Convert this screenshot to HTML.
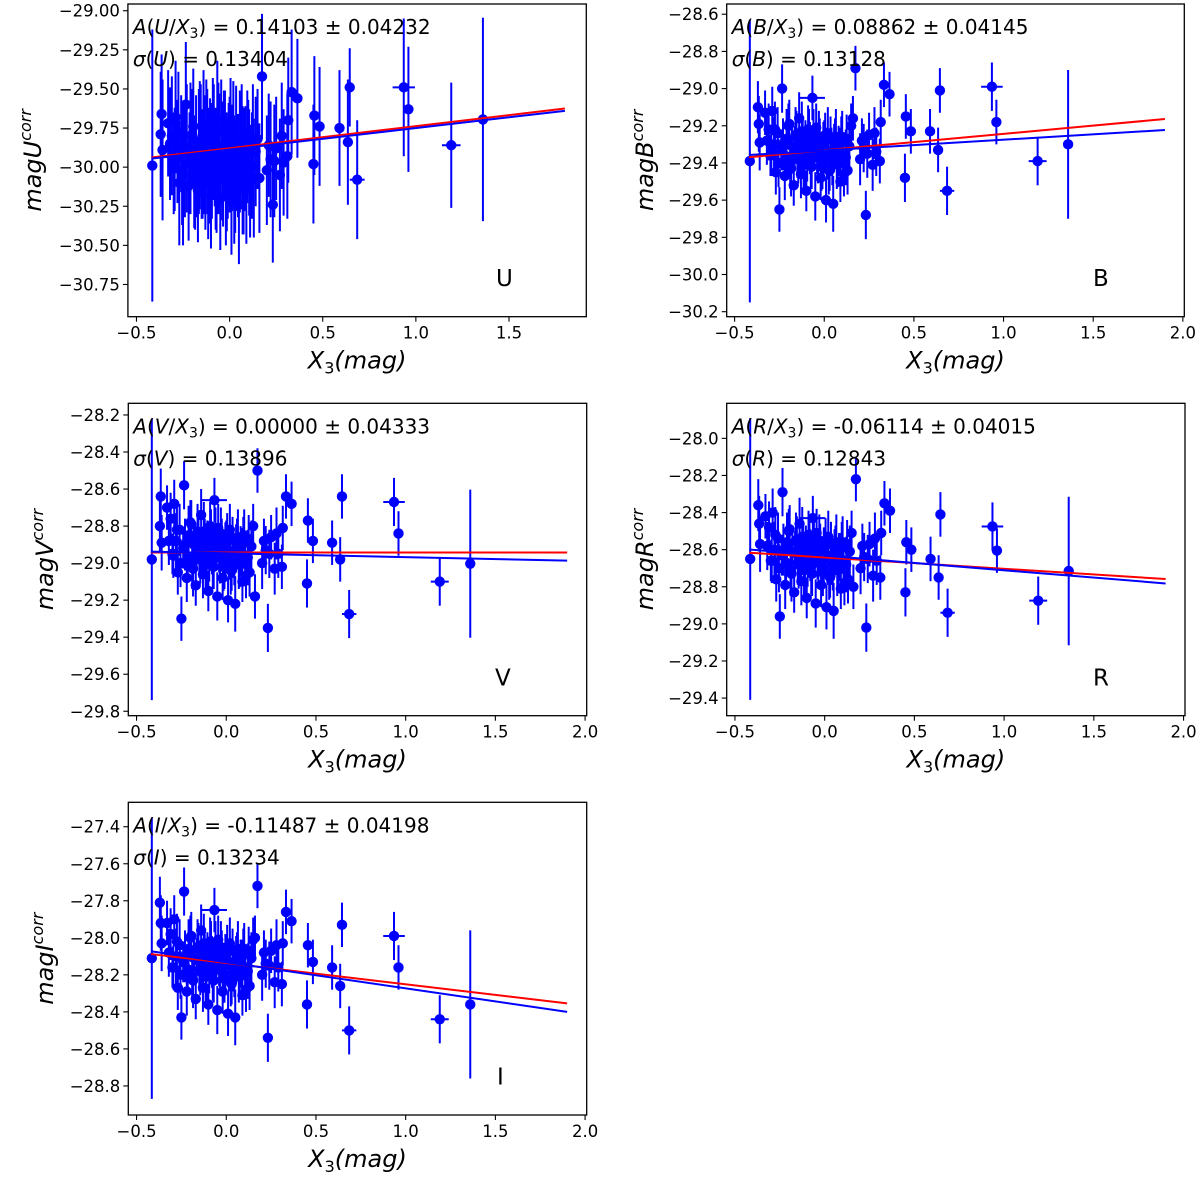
<!DOCTYPE html>
<html><head><meta charset="utf-8"><style>
html,body{margin:0;padding:0;background:#fff;}
svg{display:block;font-family:"DejaVu Sans","Liberation Sans",sans-serif;}
</style></head><body>
<svg id="fig" width="1200" height="1181" viewBox="0 0 1200 1181" xmlns="http://www.w3.org/2000/svg"></svg>
<script>
// shared x values (outliers, cluster, second cluster)
const xVals = [-0.415,-0.37,-0.365,-0.36,-0.25,-0.235,-0.066,0.174,0.16,0.232,0.31,0.315,0.333,0.364,0.45,0.455,0.483,0.59,0.635,0.645,0.685,0.935,0.96,1.19,1.36,
 -0.33,-0.31,-0.30,-0.29,-0.28,-0.27,-0.26,-0.24,-0.22,-0.21,-0.20,-0.19,-0.18,-0.17,-0.16,-0.15,-0.14,-0.13,-0.12,-0.11,-0.10,-0.09,-0.08,-0.07,-0.06,-0.05,-0.04,-0.03,-0.02,-0.01,0.00,0.01,0.02,0.03,0.04,0.05,0.06,0.07,0.08,0.09,0.10,0.11,0.12,0.13,0.15,0.20,0.22,0.25,0.27,0.29,
 -0.32,-0.295,-0.275,-0.255,-0.23,-0.215,-0.195,-0.185,-0.165,-0.155,-0.145,-0.135,-0.125,-0.115,-0.105,-0.095,-0.085,-0.075,-0.055,-0.045,-0.035,-0.025,-0.015,-0.005,0.005,0.015,0.025,0.035,0.045,0.055,0.065,0.075,0.085,0.095,0.105,0.125,0.14,0.21,0.24,0.28];
const xErr = [0,0,0,0,0,0,0.07,0,0,0,0,0,0,0,0,0,0,0,0,0,0.04,0.06,0,0.05,0,
 0,0,0,0,0,0,0,0,0,0,0,0,0,0,0,0,0,0,0,0,0,0,0,0,0,0,0,0,0,0,0,0,0,0,0,0,0,0,0,0,0,0,0,0,0,0,0,0,0,0,
 0,0,0,0,0,0,0,0,0,0,0,0,0,0,0,0,0,0,0,0,0,0,0,0,0,0,0,0,0,0,0,0,0,0,0,0,0,0,0,0];
const yU = [-29.99,-29.79,-29.66,-29.89,-30.05,-29.60,-29.70,-29.42,-30.07,-30.24,-29.93,-29.70,-29.52,-29.56,-29.98,-29.67,-29.74,-29.75,-29.84,-29.49,-30.08,-29.49,-29.63,-29.86,-29.695,
 -29.72,-29.80,-30.00,-29.68,-29.90,-30.10,-29.85,-29.95,-30.12,-29.88,-29.80,-30.03,-29.93,-30.15,-29.86,-29.98,-29.76,-30.08,-29.90,-30.00,-30.18,-29.82,-29.94,-30.05,-29.88,-30.20,-29.96,-29.86,-30.10,-30.01,-29.92,-30.22,-29.84,-30.06,-29.97,-30.24,-29.90,-30.02,-29.95,-30.12,-29.87,-30.09,-29.99,-30.07,-29.82,-30.02,-29.95,-29.88,-30.05,-29.97,
 -29.85,-29.95,-29.78,-30.02,-29.88,-29.97,-29.74,-30.06,-29.90,-29.83,-30.00,-29.92,-29.79,-30.04,-29.87,-29.96,-29.81,-30.01,-29.89,-29.77,-29.98,-29.86,-30.03,-29.91,-29.80,-29.94,-30.08,-29.84,-29.99,-29.90,-29.82,-30.05,-29.93,-29.87,-29.97,-29.84,-29.90,-29.86,-29.96,-29.80];
const yB = [-29.39,-29.10,-29.19,-29.29,-29.65,-29.00,-29.05,-28.89,-29.16,-29.68,-29.39,-29.18,-28.98,-29.03,-29.48,-29.15,-29.23,-29.23,-29.33,-29.01,-29.55,-28.99,-29.18,-29.39,-29.30,
 -29.13,-29.22,-29.36,-29.12,-29.30,-29.45,-29.24,-29.33,-29.47,-29.27,-29.20,-29.40,-29.31,-29.52,-29.25,-29.36,-29.16,-29.46,-29.29,-29.38,-29.55,-29.22,-29.32,-29.42,-29.27,-29.58,-29.35,-29.26,-29.48,-29.39,-29.30,-29.60,-29.24,-29.44,-29.34,-29.62,-29.28,-29.40,-29.33,-29.50,-29.26,-29.46,-29.37,-29.44,-29.20,-29.38,-29.32,-29.25,-29.41,-29.34,
 -29.28,-29.35,-29.22,-29.40,-29.30,-29.37,-29.19,-29.43,-29.32,-29.26,-29.38,-29.33,-29.23,-29.41,-29.29,-29.36,-29.24,-29.39,-29.31,-29.21,-29.37,-29.28,-29.42,-29.33,-29.25,-29.35,-29.44,-29.27,-29.38,-29.32,-29.26,-29.41,-29.34,-29.29,-29.36,-29.27,-29.31,-29.28,-29.35,-29.24];
const yV = [-28.98,-28.80,-28.64,-28.89,-29.30,-28.58,-28.66,-28.50,-29.18,-29.35,-29.02,-28.81,-28.64,-28.68,-29.11,-28.77,-28.88,-28.89,-28.98,-28.64,-29.275,-28.67,-28.84,-29.10,-29.003,
 -28.70,-28.76,-28.95,-28.68,-28.88,-29.05,-28.82,-28.92,-29.08,-28.85,-28.78,-29.00,-28.90,-29.12,-28.83,-28.96,-28.74,-29.06,-28.88,-28.98,-29.15,-28.80,-28.92,-29.02,-28.86,-29.18,-28.94,-28.84,-29.08,-28.99,-28.90,-29.20,-28.82,-29.04,-28.95,-29.22,-28.88,-29.00,-28.93,-29.10,-28.85,-29.07,-28.97,-29.05,-28.80,-29.00,-28.93,-28.86,-29.03,-28.95,
 -28.88,-28.96,-28.82,-29.00,-28.90,-28.97,-28.79,-29.03,-28.92,-28.86,-28.98,-28.93,-28.83,-29.01,-28.89,-28.96,-28.84,-28.99,-28.91,-28.81,-28.97,-28.88,-29.02,-28.93,-28.85,-28.95,-29.04,-28.87,-28.98,-28.92,-28.86,-29.01,-28.94,-28.89,-28.96,-28.87,-28.91,-28.88,-28.95,-28.84];
const yR = [-28.65,-28.36,-28.46,-28.57,-28.96,-28.29,-28.43,-28.22,-28.80,-29.02,-28.75,-28.51,-28.35,-28.39,-28.83,-28.56,-28.60,-28.65,-28.75,-28.41,-28.94,-28.475,-28.605,-28.875,-28.715,
 -28.42,-28.48,-28.66,-28.40,-28.60,-28.76,-28.54,-28.63,-28.79,-28.56,-28.50,-28.71,-28.61,-28.83,-28.55,-28.67,-28.46,-28.77,-28.59,-28.69,-28.86,-28.52,-28.63,-28.73,-28.57,-28.89,-28.65,-28.55,-28.79,-28.70,-28.61,-28.91,-28.53,-28.75,-28.66,-28.93,-28.59,-28.71,-28.64,-28.81,-28.56,-28.78,-28.68,-28.76,-28.51,-28.70,-28.64,-28.57,-28.74,-28.66,
 -28.58,-28.66,-28.52,-28.70,-28.60,-28.67,-28.49,-28.73,-28.62,-28.56,-28.68,-28.63,-28.53,-28.71,-28.59,-28.66,-28.54,-28.69,-28.61,-28.51,-28.67,-28.58,-28.72,-28.63,-28.55,-28.65,-28.74,-28.57,-28.68,-28.62,-28.56,-28.71,-28.64,-28.59,-28.66,-28.57,-28.61,-28.58,-28.65,-28.54];
const yI = [-28.11,-27.81,-27.92,-28.03,-28.43,-27.75,-27.85,-27.72,-28.00,-28.54,-28.25,-28.03,-27.86,-27.91,-28.36,-28.04,-28.13,-28.16,-28.26,-27.93,-28.50,-27.99,-28.16,-28.44,-28.36,
 -27.92,-27.98,-28.16,-27.90,-28.10,-28.27,-28.04,-28.13,-28.29,-28.06,-28.00,-28.21,-28.11,-28.33,-28.05,-28.17,-27.96,-28.27,-28.09,-28.19,-28.36,-28.02,-28.13,-28.23,-28.07,-28.39,-28.15,-28.05,-28.29,-28.20,-28.11,-28.41,-28.03,-28.25,-28.16,-28.43,-28.09,-28.21,-28.14,-28.31,-28.06,-28.28,-28.18,-28.26,-28.01,-28.20,-28.14,-28.07,-28.24,-28.16,
 -28.08,-28.16,-28.02,-28.20,-28.10,-28.17,-27.99,-28.23,-28.12,-28.06,-28.18,-28.13,-28.03,-28.21,-28.09,-28.16,-28.04,-28.19,-28.11,-28.01,-28.17,-28.08,-28.22,-28.13,-28.05,-28.15,-28.24,-28.07,-28.18,-28.12,-28.06,-28.21,-28.14,-28.09,-28.16,-28.07,-28.11,-28.08,-28.15,-28.04];
const eU = [0.87,0.40,0.38,0.45,0.45,0.40,0.38,0.40,0.35,0.37,0.40,0.40,0.40,0.38,0.38,0.38,0.38,0.37,0.40,0.25,0.38,0.44,0.40,0.40,0.65,
 0.34,0.38,0.30,0.36,0.33,0.40,0.31,0.37,0.35,0.42,0.30,0.36,0.39,0.33,0.41,0.35,0.38,0.32,0.40,0.36,0.34,0.39,0.31,0.37,0.42,0.33,0.38,0.35,0.40,0.32,0.37,0.34,0.39,0.36,0.31,0.38,0.35,0.41,0.33,0.37,0.30,0.36,0.34,0.38,0.32,0.35,0.37,0.33,0.36,0.34,
 0.36,0.33,0.39,0.35,0.41,0.32,0.37,0.34,0.40,0.36,0.33,0.38,0.35,0.42,0.31,0.37,0.34,0.39,0.36,0.33,0.40,0.35,0.38,0.32,0.37,0.34,0.41,0.36,0.33,0.39,0.35,0.38,0.32,0.36,0.34,0.37,0.35,0.33,0.36,0.34];
const eY = [0.76,0.14,0.15,0.15,0.12,0.13,0.12,0.12,0.12,0.13,0.12,0.12,0.12,0.12,0.13,0.12,0.12,0.12,0.12,0.12,0.13,0.13,0.12,0.13,0.40,
 0.12,0.14,0.11,0.13,0.15,0.12,0.14,0.11,0.13,0.16,0.12,0.14,0.13,0.11,0.15,0.12,0.14,0.13,0.12,0.15,0.11,0.13,0.14,0.12,0.16,0.13,0.11,0.14,0.12,0.15,0.13,0.12,0.14,0.11,0.13,0.15,0.12,0.14,0.13,0.11,0.14,0.12,0.15,0.13,0.12,0.14,0.13,0.12,0.14,0.13,
 0.13,0.12,0.15,0.13,0.14,0.12,0.13,0.15,0.12,0.14,0.13,0.12,0.16,0.13,0.12,0.14,0.13,0.15,0.12,0.13,0.14,0.12,0.13,0.15,0.12,0.14,0.13,0.12,0.14,0.13,0.15,0.12,0.13,0.14,0.12,0.13,0.14,0.12,0.13,0.14];
// fit lines: [intercept, slope] red then blue
const fitU = [[-29.879,0.141],[-29.8875,0.1375]];
const fitB = [[-29.332,0.0886],[-29.333,0.058]];
const fitV = [[-28.943,0.0],[-28.947,-0.021]];
const fitR = [[-28.642,-0.0611],[-28.632,-0.079]];
const fitI = [[-28.136,-0.1149],[-28.132,-0.141]];
const ticksXU = [-0.5,0.0,0.5,1.0,1.5];
const ticksX = [-0.5,0.0,0.5,1.0,1.5,2.0];
const ticksYU = [-29.00,-29.25,-29.50,-29.75,-30.00,-30.25,-30.50,-30.75];
const ticksYB = [-28.6,-28.8,-29.0,-29.2,-29.4,-29.6,-29.8,-30.0,-30.2];
const ticksYV = [-28.2,-28.4,-28.6,-28.8,-29.0,-29.2,-29.4,-29.6,-29.8];
const ticksYR = [-28.0,-28.2,-28.4,-28.6,-28.8,-29.0,-29.2,-29.4];
const ticksYI = [-27.4,-27.6,-27.8,-28.0,-28.2,-28.4,-28.6,-28.8];

const NS="http://www.w3.org/2000/svg";
const svg=document.getElementById('fig');
function mk(tag,attrs,parent){const e=document.createElementNS(NS,tag);for(const k in attrs)e.setAttribute(k,attrs[k]);(parent||svg).appendChild(e);return e;}

const panels=[
 {band:'U',L:127.9,R:586.3,T:4,B:316.7,xlim:[-0.546,1.915],ylim:[-28.957,-30.956],ys:yU,es:eU,fit:fitU,xmax:1.8,tx:ticksXU,ty:ticksYU,dec:2,A:'0.14103 ± 0.04232',S:'0.13404',ylx:41,lx:496},
 {band:'B',L:726.7,R:1184.3,T:4,B:316.7,xlim:[-0.544,2.008],ylim:[-28.545,-30.227],ys:yB,es:eY,fit:fitB,xmax:1.9,tx:ticksX,ty:ticksYB,dec:1,A:'0.08862 ± 0.04145',S:'0.13128',ylx:653,lx:1093},
 {band:'V',L:128.3,R:586.7,T:403.3,B:715.7,xlim:[-0.546,2.009],ylim:[-28.137,-29.824],ys:yV,es:eY,fit:fitV,xmax:1.9,tx:ticksX,ty:ticksYV,dec:1,A:'0.00000 ± 0.04333',S:'0.13896',ylx:53,lx:495},
 {band:'R',L:726.7,R:1185,T:403.3,B:715.7,xlim:[-0.546,2.008],ylim:[-27.811,-29.495],ys:yR,es:eY,fit:fitR,xmax:1.9,tx:ticksX,ty:ticksYR,dec:1,A:'-0.06114 ± 0.04015',S:'0.12843',ylx:653,lx:1093},
 {band:'I',L:128.3,R:586.7,T:802.3,B:1115,xlim:[-0.546,2.009],ylim:[-27.268,-28.957],ys:yI,es:eY,fit:fitI,xmax:1.9,tx:ticksX,ty:ticksYI,dec:1,A:'-0.11487 ± 0.04198',S:'0.13234',ylx:53,lx:497}
];

panels.forEach((p,pi)=>{
 const sx=v=>p.L+(v-p.xlim[0])/(p.xlim[1]-p.xlim[0])*(p.R-p.L);
 const sy=v=>p.T+(v-p.ylim[0])/(p.ylim[1]-p.ylim[0])*(p.B-p.T);
 const g=mk('g',{});
 
 
 const cp=mk('clipPath',{id:'clip'+pi},g);
 mk('rect',{x:p.L,y:p.T,width:p.R-p.L,height:p.B-p.T},cp);
 const plot=mk('g',{'clip-path':'url(#clip'+pi+')'},g);
 
 
 xVals.forEach((x,i)=>{
  const y=p.ys[i],e=p.es[i];
  const ln=mk('line',{x1:sx(x),x2:sx(x),y1:sy(y-e),y2:sy(y+e),stroke:'#0000ff','stroke-width':2},plot);
  
  
  if(xErr[i]>0){
   const lh=mk('line',{x1:sx(x-xErr[i]),x2:sx(x+xErr[i]),y1:sy(y),y2:sy(y),stroke:'#0000ff','stroke-width':2},plot);
   
   
  }
 });
 xVals.forEach((x,i)=>{
  const c=mk('circle',{cx:sx(x),cy:sy(p.ys[i]),r:5.2,fill:'#0000ff'},plot);
  
  
 });
 ['#ff0000','#0000ff'].forEach((col,k)=>{
  const f=p.fit[k],x0=-0.42,x1=p.xmax;
  const l=mk('line',{x1:sx(x0),x2:sx(x1),y1:sy(f[0]+f[1]*x0),y2:sy(f[0]+f[1]*x1),stroke:col,'stroke-width':2},plot);
  
  
 });
 const fr=mk('rect',{x:p.L,y:p.T,width:p.R-p.L,height:p.B-p.T,fill:'none',stroke:'#000','stroke-width':1.3},g);
 
 
 p.tx.forEach(t=>{
  mk('line',{x1:sx(t),x2:sx(t),y1:p.B,y2:p.B+5,stroke:'#000','stroke-width':1.1},g);
  const tt=mk('text',{x:sx(t),y:p.B+22,'text-anchor':'middle','font-size':16.5,fill:'#000'},g);
  tt.textContent=(t<0?'\u2212':'')+Math.abs(t).toFixed(1);
  
  
 });
 p.ty.forEach(t=>{
  mk('line',{x1:p.L-5,x2:p.L,y1:sy(t),y2:sy(t),stroke:'#000','stroke-width':1.1},g);
  const tt=mk('text',{x:p.L-8,y:sy(t)+6,'text-anchor':'end','font-size':16.5,fill:'#000'},g);
  tt.textContent='\u2212'+Math.abs(t).toFixed(p.dec);
  
  
 });
 const xl=mk('text',{x:(p.L+p.R)/2,y:p.B+52,'text-anchor':'middle','font-size':24,'font-style':'italic',fill:'#000'},g);
 xl.innerHTML='X<tspan font-size="16" dy="5" font-style="normal">3</tspan><tspan dy="-5">(mag)</tspan>';
 
 
 const cy=(p.T+p.B)/2;
 const yl=mk('text',{x:0,y:0,transform:`translate(${p.ylx},${cy}) rotate(-90)`,'text-anchor':'middle','font-size':24,'font-style':'italic',fill:'#000'},g);
 yl.innerHTML='mag'+p.band+'<tspan font-size="16" dy="-10">corr</tspan>';
 
 
 const a1=mk('text',{x:p.L+5,y:p.T+30,'font-size':20,fill:'#000'},g);
 a1.innerHTML='<tspan font-style="italic">A</tspan>(<tspan font-style="italic">'+p.band+'</tspan>/<tspan font-style="italic">X</tspan><tspan font-size="14" dy="4">3</tspan><tspan dy="-4">) = '+p.A+'</tspan>';
 
 
 const a2=mk('text',{x:p.L+5,y:p.T+62,'font-size':20,fill:'#000'},g);
 a2.innerHTML='<tspan font-style="italic">σ</tspan>(<tspan font-style="italic">'+p.band+'</tspan>) = '+p.S;
 
 
 const bl=mk('text',{x:p.lx,y:p.T+282,'font-size':23,fill:'#000'},g);
 bl.textContent=p.band;
 
 
});
</script>
</body></html>
